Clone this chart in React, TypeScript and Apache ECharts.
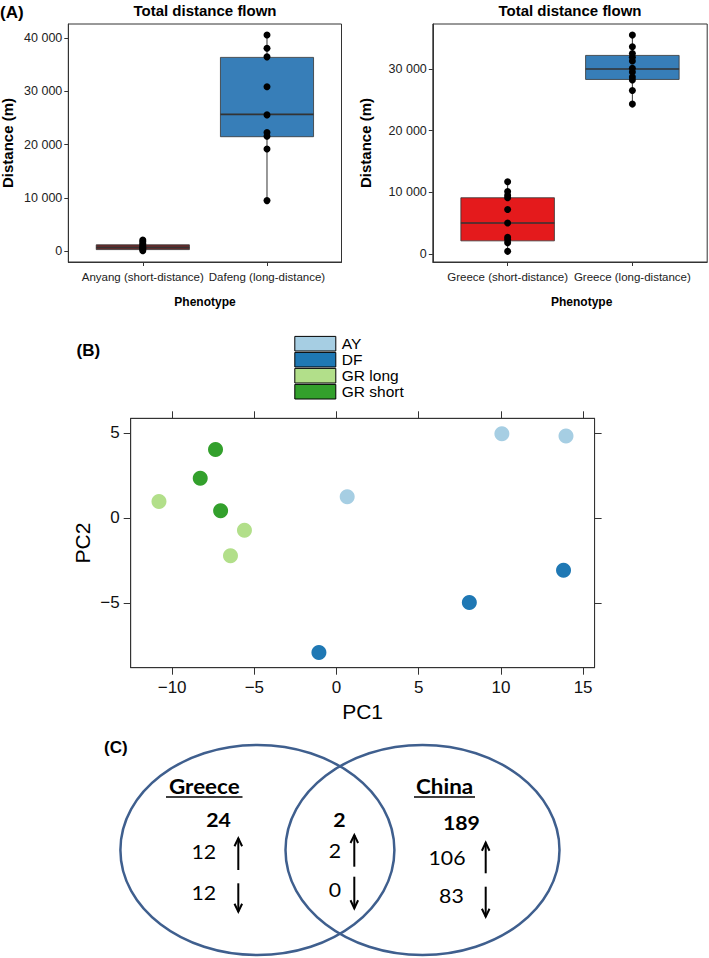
import React, { useEffect, useRef } from "react";
import * as echarts from "echarts";

// ---------- Panel A data ----------
const leftCategories = ["Anyang (short-distance)", "Dafeng (long-distance)"];
const rightCategories = ["Greece (short-distance)", "Greece (long-distance)"];
// [min, Q1, median, Q3, max]
const leftBoxStats = [
  [100, 300, 700, 1200, 2100],
  [9500, 21500, 25700, 36400, 40600],
];
const rightBoxStats = [
  [400, 2100, 5000, 9100, 11700],
  [24300, 28300, 30000, 32200, 35500],
];
const anyangPoints = [2100, 1800, 1500, 1200, 900, 700, 500, 300, 100];
const dafengPoints = [40600, 38100, 36500, 30900, 25600, 22300, 21600, 19200, 9500];
const greeceShortPoints = [11700, 10100, 9500, 9100, 7200, 5000, 2700, 2300, 1800, 400];
const greeceLongPoints = [35500, 33600, 32500, 31900, 31300, 30100, 29500, 28700, 28200, 26500, 24300];
const leftBoxColors = ["#6A2B2B", "#377EB8"];
const rightBoxColors = ["#E41A1C", "#377EB8"];
const leftTicks = [0, 10000, 20000, 30000, 40000];
const rightTicks = [0, 10000, 20000, 30000];

// ---------- Panel B data ----------
const pcaGroups = ["AY", "DF", "GR long", "GR short"];
const pcaColors = ["#A6CEE3", "#1F78B4", "#B2DF8A", "#33A02C"];
const ayPoints = [[10.06, 4.94], [13.96, 4.81], [0.65, 1.24]];
const dfPoints = [[13.81, -3.09], [8.08, -4.98], [-1.07, -7.92]];
const grLongPoints = [[-10.8, 0.96], [-5.6, -0.74], [-6.45, -2.24]];
const grShortPoints = [[-7.36, 4.02], [-8.29, 2.32], [-7.05, 0.41]];
const pc1Ticks = [-10, -5, 0, 5, 10, 15];
const pc2Ticks = [-5, 0, 5];

// ---------- Panel C data ----------
const vennSets = ["Greece", "China"];
const vennTotals = [24, 2, 189];
const vennUp = [12, 2, 106];
const vennDown = [12, 0, 83];

const SANS = "'Liberation Sans', Arial, sans-serif";
const VENN = "Lato, 'Open Sans', sans-serif";

const fmtThousands = (v: number) => String(v).replace(/\B(?=(\d{3})+(?!\d))/g, " ");
const fmtMinus = (v: number) => (v < 0 ? "\u2212" + Math.abs(v) : String(v));

function boxRender(colors: string[]) {
  return (params: any, api: any) => {
    const x = api.value(0);
    const lo = api.coord([x, api.value(1)]);
    const q1 = api.coord([x, api.value(2)]);
    const md = api.coord([x, api.value(3)]);
    const q3 = api.coord([x, api.value(4)]);
    const hi = api.coord([x, api.value(5)]);
    const w = api.size([0.75, 0])[0];
    const cx = lo[0];
    const ls = { stroke: "#333", lineWidth: 1 };
    return {
      type: "group",
      children: [
        { type: "line", shape: { x1: cx, y1: lo[1], x2: cx, y2: q1[1] }, style: ls },
        { type: "line", shape: { x1: cx, y1: q3[1], x2: cx, y2: hi[1] }, style: ls },
        {
          type: "rect",
          shape: { x: cx - w / 2, y: q3[1], width: w, height: q1[1] - q3[1] },
          style: { fill: colors[params.dataIndex], stroke: "#333", lineWidth: 0.8 },
        },
        {
          type: "line",
          shape: { x1: cx - w / 2, y1: md[1], x2: cx + w / 2, y2: md[1] },
          style: { stroke: "#333", lineWidth: 1.6 },
        },
      ],
    };
  };
}

function catAxis(gridIndex: number, cats: string[]) {
  return {
    type: "value",
    gridIndex,
    min: 0.4,
    max: 2.6,
    axisLine: { show: true, onZero: false, lineStyle: { color: "#333", width: 1 } },
    axisTick: { show: true, customValues: [1, 2], length: 4, lineStyle: { color: "#333" } },
    axisLabel: {
      customValues: [1, 2],
      formatter: (v: number) => cats[Math.round(v) - 1] || "",
      fontFamily: SANS,
      fontSize: 11.5,
      color: "#222",
      margin: 9,
      hideOverlap: false,
    },
    splitLine: { show: false },
  };
}

function distAxis(gridIndex: number, min: number, max: number, ticks: number[]) {
  return {
    type: "value",
    gridIndex,
    min,
    max,
    axisLine: { show: true, onZero: false, lineStyle: { color: "#333", width: 1 } },
    axisTick: { show: true, customValues: ticks, length: 4, lineStyle: { color: "#333" } },
    axisLabel: {
      customValues: ticks,
      formatter: fmtThousands,
      fontFamily: SANS,
      fontSize: 12.5,
      color: "#222",
      margin: 6,
    },
    splitLine: { show: false },
  };
}

function pcaAxis(position: string, min: number, max: number, ticks: number[], labels: boolean) {
  return {
    type: "value",
    gridIndex: 2,
    position,
    min,
    max,
    axisLine: { show: true, onZero: false, lineStyle: { color: "#333", width: 1 } },
    axisTick: { show: true, customValues: ticks, length: 7, lineStyle: { color: "#333" } },
    axisLabel: {
      show: labels,
      customValues: ticks,
      formatter: fmtMinus,
      fontFamily: SANS,
      fontSize: 17,
      color: "#111",
      margin: 11,
    },
    splitLine: { show: false },
  };
}

function upArrow(x: number, y1: number, y2: number) {
  return [
    { type: "line", shape: { x1: x, y1, x2: x, y2 }, style: { stroke: "#000", lineWidth: 2 } },
    {
      type: "polyline",
      shape: { points: [[x - 3.8, y1 + 8], [x, y1], [x + 3.8, y1 + 8]] },
      style: { stroke: "#000", lineWidth: 2, fill: "none" },
    },
  ];
}
function downArrow(x: number, y1: number, y2: number) {
  return [
    { type: "line", shape: { x1: x, y1, x2: x, y2 }, style: { stroke: "#000", lineWidth: 2 } },
    {
      type: "polyline",
      shape: { points: [[x - 3.8, y2 - 8], [x, y2], [x + 3.8, y2 - 8]] },
      style: { stroke: "#000", lineWidth: 2, fill: "none" },
    },
  ];
}

function txt(text: string, x: number, y: number, o: any = {}) {
  return {
    type: "text",
    x,
    y,
    rotation: o.rotation || 0,
    scaleX: o.scaleX || 1,
    style: {
      text,
      fill: o.color || "#000",
      font: `${o.bold ? "bold " : ""}${o.size || 14}px ${o.family || SANS}`,
      align: o.align || "center",
      verticalAlign: "middle",
    },
  };
}

export default function App() {
  const ref = useRef<HTMLDivElement>(null);
  useEffect(() => {
    document.body.style.margin = "0";
    const chart = echarts.init(ref.current!, null, { renderer: "svg" });

    const vennScale = 1.12;
    const vt = (t: string, x: number, y: number, bold = false, size = 19) =>
      txt(t, x, y, { bold, size, family: VENN, scaleX: vennScale });

    const graphic: any[] = [
      txt("(A)", 0, 12, { bold: true, size: 17, align: "left" }),
      txt("Total distance flown", 205, 10, { bold: true, size: 15 }),
      txt("Total distance flown", 570, 10, { bold: true, size: 15 }),
      txt("Distance (m)", 7.5, 143, { bold: true, size: 15, rotation: Math.PI / 2 }),
      txt("Distance (m)", 365.7, 143, { bold: true, size: 15, rotation: Math.PI / 2 }),
      txt("Phenotype", 205, 302, { bold: true, size: 12 }),
      txt("Phenotype", 581.7, 302, { bold: true, size: 12 }),
      txt("(B)", 76.5, 350, { bold: true, size: 17, align: "left" }),
      txt("PC1", 362.6, 711, { size: 21 }),
      txt("PC2", 82, 543, { size: 21, rotation: Math.PI / 2 }),
      txt("(C)", 104, 747.5, { bold: true, size: 17, align: "left" }),
      {
        type: "ellipse",
        shape: { cx: 257.4, cy: 850, rx: 137, ry: 105 },
        style: { fill: "none", stroke: "#3F5F8E", lineWidth: 2.5 },
      },
      {
        type: "ellipse",
        shape: { cx: 422.5, cy: 850, rx: 137, ry: 105 },
        style: { fill: "none", stroke: "#3F5F8E", lineWidth: 2.5 },
      },
      vt(vennSets[0], 204.3, 786, true, 20),
      vt(vennSets[1], 444.6, 786, true, 20),
      { type: "line", shape: { x1: 166, y1: 797, x2: 242.5, y2: 797 }, style: { stroke: "#000", lineWidth: 1.5 } },
      { type: "line", shape: { x1: 414, y1: 797, x2: 475, y2: 797 }, style: { stroke: "#000", lineWidth: 1.5 } },
      vt(String(vennTotals[0]), 218.5, 819.5, true),
      vt(String(vennUp[0]), 203.8, 851, false),
      vt(String(vennDown[0]), 203.8, 892, false),
      vt(String(vennTotals[1]), 339.3, 819.5, true),
      vt(String(vennUp[1]), 335, 850, false),
      vt(String(vennDown[1]), 335, 889.5, false),
      vt(String(vennTotals[2]), 461.4, 822, true),
      vt(String(vennUp[2]), 447, 857.7, false),
      vt(String(vennDown[2]), 451.4, 895.7, false),
      ...upArrow(238.3, 838.3, 870),
      ...downArrow(238.3, 883.3, 911.7),
      ...upArrow(354.3, 835, 866.7),
      ...downArrow(354.3, 876.7, 908.3),
      ...upArrow(485.7, 842.7, 873.3),
      ...downArrow(485.7, 886.7, 916.7),
    ];

    const pointSeries = (xi: number, cat: number, vals: number[]) => ({
      type: "scatter",
      xAxisIndex: xi,
      yAxisIndex: xi,
      symbolSize: 7,
      itemStyle: { color: "#000", opacity: 1 },
      z: 5,
      data: vals.map((v) => [cat, v]),
    });

    const pcaSeries = [ayPoints, dfPoints, grLongPoints, grShortPoints].map((pts, i) => ({
      type: "scatter",
      name: pcaGroups[i],
      xAxisIndex: 2,
      yAxisIndex: 2,
      symbolSize: 15,
      itemStyle: { color: pcaColors[i], opacity: 1 },
      data: pts,
    }));

    chart.setOption({
      animation: false,
      backgroundColor: "#fff",
      grid: [
        { left: 68.3, top: 24, width: 273.2, height: 238, show: true, borderColor: "#333", borderWidth: 1, containLabel: false },
        { left: 432.8, top: 24, width: 274.4, height: 238, show: true, borderColor: "#333", borderWidth: 1, containLabel: false },
        { left: 130.7, top: 418.3, width: 463.9, height: 249.4, show: true, borderColor: "#333", borderWidth: 1, containLabel: false },
      ],
      xAxis: [
        catAxis(0, leftCategories),
        catAxis(1, rightCategories),
        pcaAxis("bottom", -12.52, 15.7, pc1Ticks, true),
        pcaAxis("top", -12.52, 15.7, pc1Ticks, false),
      ],
      yAxis: [
        distAxis(0, -2030, 42670, leftTicks),
        distAxis(1, -1330, 37300, rightTicks),
        pcaAxis("left", -8.82, 5.85, pc2Ticks, true),
        pcaAxis("right", -8.82, 5.85, pc2Ticks, false),
      ],
      legend: {
        data: pcaGroups,
        orient: "vertical",
        left: 294.3,
        top: 335.7,
        padding: 0,
        itemWidth: 41,
        itemHeight: 14.6,
        itemGap: 0,
        icon: "rect",
        selectedMode: false,
        itemStyle: { borderColor: "#000", borderWidth: 1 },
        textStyle: { fontFamily: SANS, fontSize: 15.5, color: "#000", lineHeight: 14.6, padding: [0, 0, 0, 1] },
      },
      series: [
        {
          type: "custom",
          xAxisIndex: 0,
          yAxisIndex: 0,
          renderItem: boxRender(leftBoxColors),
          encode: { x: 0, y: [1, 2, 3, 4, 5] },
          data: leftBoxStats.map((s, i) => [i + 1, ...s]),
          z: 2,
        },
        {
          type: "custom",
          xAxisIndex: 1,
          yAxisIndex: 1,
          renderItem: boxRender(rightBoxColors),
          encode: { x: 0, y: [1, 2, 3, 4, 5] },
          data: rightBoxStats.map((s, i) => [i + 1, ...s]),
          z: 2,
        },
        pointSeries(0, 1, anyangPoints),
        pointSeries(0, 2, dafengPoints),
        pointSeries(1, 1, greeceShortPoints),
        pointSeries(1, 2, greeceLongPoints),
        ...pcaSeries,
      ],
      graphic,
    });
    return () => chart.dispose();
  }, []);
  return <div ref={ref} style={{ position: "absolute", left: 0, top: 0, width: 709, height: 958 }} />;
}
